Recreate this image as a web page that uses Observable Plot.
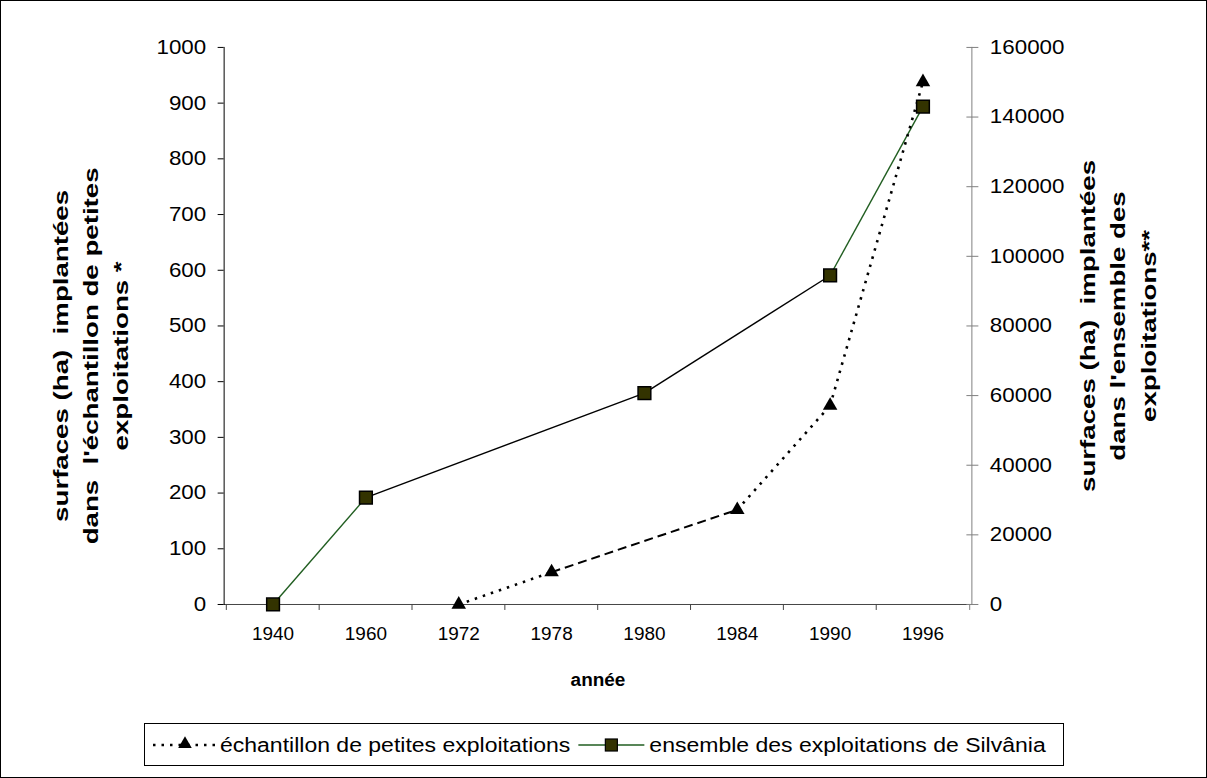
<!DOCTYPE html>
<html><head><meta charset="utf-8">
<script src="https://cdn.jsdelivr.net/npm/d3@7"></script>
<script src="https://cdn.jsdelivr.net/npm/@observablehq/plot@0.6"></script>
<style>
body{margin:0;background:#fff;font-family:"Liberation Sans",Arial,sans-serif;}
#frame{position:relative;width:1207px;height:778px;box-sizing:border-box;border:1px solid #000;overflow:hidden;background:#fff;}
#chart{position:absolute;left:0;top:0;}
#legend{position:absolute;left:143px;top:722px;}
#legend svg{display:block;}
</style></head><body>
<div id="frame"><div id="chart"></div><div id="legend"></div></div>
<script>
// ---- data ----
const years = ["1940","1960","1972","1978","1980","1984","1990","1996"];
const sampleYears = ["1972","1978","1984","1990","1996"];
const sampleValues = [0, 58, 170, 357, 938];
const totalYears = ["1940","1960","1980","1990","1996"];
const totalValues = [0, 30700, 60700, 94500, 143000];
const leftTicks = [0,100,200,300,400,500,600,700,800,900,1000];
const rightTicks = [0,20000,40000,60000,80000,100000,120000,140000,160000];
const sampleName = "échantillon de petites exploitations";
const totalName = "ensemble des exploitations de Silvânia";
const leftTitle = "surfaces (ha)  implantées\ndans  l'échantillon de petites\nexploitations *";
const rightTitle = "surfaces (ha)  implantées\ndans l'ensemble des\nexploitations**";
const xTitle = "année";

// ---- derived ----
const leftMax = leftTicks[leftTicks.length-1];
const rightMax = rightTicks[rightTicks.length-1];
const ratio = leftMax / rightMax;
const sample = sampleYears.map((y,i)=>({year:y, v:sampleValues[i]}));
const total = totalYears.map((y,i)=>({year:y, v:totalValues[i]*ratio}));
const segs = pts => d3.pairs(pts).map(([a,b])=>({x1:a.year,y1:a.v,x2:b.year,y2:b.v,
  gap: years.indexOf(b.year)-years.indexOf(a.year) > 1}));
const sampleSegs = segs(sample), totalSegs = segs(total);

const W = 1207, H = 712, mL = 223, mR = 235, mT = 46, mB = H - 604;
const step = (W - mL - mR) / years.length;
const font = "'Liberation Sans', Arial, sans-serif";
const green = "#215e21", olive = "#333300";

const svg = Plot.plot({
  width: W, height: H, marginLeft: mL, marginRight: mR, marginTop: mT, marginBottom: mB,
  style: {fontFamily: font, background: "transparent", color: "#000"},
  x: {type: "point", domain: years, padding: 0.5, align: 0.5},
  y: {domain: [0, leftMax]},
  marks: [
    Plot.ruleY([0], {stroke: "#444", strokeWidth: 1}),
    Plot.frame({anchor: "left", stroke: "#000"}),
    Plot.frame({anchor: "right", stroke: "#808080"}),
    Plot.axisX({tickSize: 6, dx: -step/2, tickFormat: () => "", stroke: "#444", label: null}),
    Plot.axisX({ticks: [years[years.length-1]], tickSize: 6, dx: step/2, tickFormat: () => "", stroke: "#808080", label: null}),
    Plot.axisX({tickSize: 0, tickPadding: 22, fontSize: 19, label: null, fill: "#000", ariaLabel: "xlabels"}),
    Plot.axisY({ticks: leftTicks, tickFormat: d => String(d), tickSize: 6, tickPadding: 12, fontSize: 20, label: null, fill: "#000", stroke: "#000"}),
    Plot.axisY({anchor: "right", ticks: rightTicks.map(v => v*ratio), tickFormat: d => String(Math.round(d/ratio)),
      tickSize: 12, dx: -6, tickPadding: 12, fontSize: 20, label: null, fill: "#000", stroke: "#808080"}),
    // total series (right axis)
    Plot.link(totalSegs, {x1: "x1", y1: "y1", x2: "x2", y2: "y2", stroke: d => d.gap ? "#000" : green, strokeWidth: 1.4}),
    // sample series (left axis)
    Plot.link(sampleSegs.filter(d => !d.gap), {x1: "x1", y1: "y1", x2: "x2", y2: "y2", stroke: "#000", strokeWidth: 2.6, strokeDasharray: "2.5,6"}),
    Plot.link(sampleSegs.filter(d => d.gap), {x1: "x1", y1: "y1", x2: "x2", y2: "y2", stroke: "#000", strokeWidth: 2, strokeDasharray: "9,5"}),
    Plot.dot(total, {x: "year", y: "v", symbol: "square", r: 7.2, fill: olive, stroke: "#000", strokeWidth: 1.5}),
    Plot.dot(sample, {x: "year", y: "v", symbol: "triangle", r: 5.4, fill: "#000", stroke: "none"}),
    // titles
    Plot.text([xTitle], {text: d => d, frameAnchor: "bottom", dy: 76, fontSize: 19, fontWeight: "bold", lineAnchor: "middle"}),
    Plot.text([leftTitle], {text: d => d, frameAnchor: "left", rotate: -90, dx: -136, dy: 30, fontSize: 21,
      fontWeight: "bold", lineHeight: 1.45, textAnchor: "middle", lineAnchor: "middle"}),
    Plot.text([rightTitle], {text: d => d, frameAnchor: "right", rotate: -90, dx: 144, dy: 0, fontSize: 21,
      fontWeight: "bold", lineHeight: 1.45, textAnchor: "middle", lineAnchor: "middle"})
  ]
});
document.getElementById("chart").appendChild(svg);
// stretch rotated titles along their length
d3.select(svg).selectAll("text").filter(function(){ return this.textContent.startsWith("surfaces"); })
  .each(function(){ const t = this.getAttribute("transform") || ""; this.setAttribute("transform", t + " scale(1.32,1)"); });
// stretch horizontal tick labels slightly (wide rendering in the original)
function stretch(el, k){ const L = el.getComputedTextLength(); if (L > 0) { el.setAttribute("textLength", L*k); el.setAttribute("lengthAdjust", "spacingAndGlyphs"); } return L*k; }
d3.select(svg).selectAll("g[aria-label='y-axis tick label'] text, g[aria-label='xlabels'] text, g[aria-label='x-axis tick label'] text")
  .each(function(){ stretch(this, 1.12); });

// ---- legend (svg) ----
const LW = 920, LH = 43, LF = 20, LK = 1.15;
const lg = d3.select("#legend").append("svg").attr("width", LW).attr("height", LH)
  .style("font-family", font).style("font-size", LF + "px");
lg.append("rect").attr("x", 0.5).attr("y", 0.5).attr("width", LW-1).attr("height", LH-1).attr("fill", "#fff").attr("stroke", "#000");
const cy = 22;
lg.append("line").attr("x1", 9).attr("x2", 72).attr("y1", cy).attr("y2", cy).attr("stroke", "#000").attr("stroke-width", 2.6).attr("stroke-dasharray", "2.5,6");
lg.append("path").attr("d", d3.symbol(d3.symbolTriangle, 80)()).attr("transform", `translate(41,${cy-1})`).attr("fill", "#000");
const t1 = lg.append("text").attr("x", 76).attr("y", cy).attr("dy", "0.35em").text(sampleName);
const w1 = stretch(t1.node(), LK);
const sx = 76 + w1 + 8;
lg.append("line").attr("x1", sx).attr("x2", sx + 66).attr("y1", cy).attr("y2", cy).attr("stroke", green).attr("stroke-width", 1.6);
lg.append("rect").attr("x", sx + 27).attr("y", cy - 6).attr("width", 12).attr("height", 12).attr("fill", olive).attr("stroke", "#000").attr("stroke-width", 1.2);
const t2 = lg.append("text").attr("x", sx + 71).attr("y", cy).attr("dy", "0.35em").text(totalName);
stretch(t2.node(), LK);
</script>
</body></html>
